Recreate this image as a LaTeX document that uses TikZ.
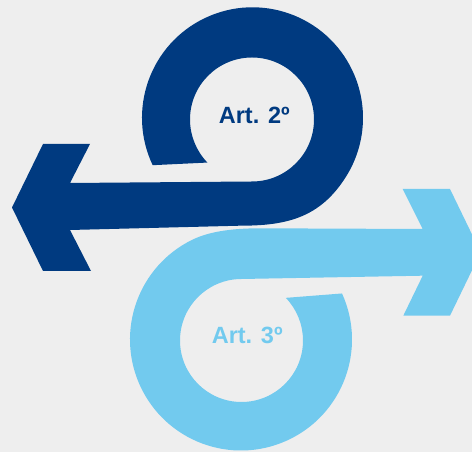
\documentclass[tikz,border=0pt]{standalone}
\usepackage{fontspec}
\usetikzlibrary{calc}
\setmainfont{Liberation Sans}
\definecolor{darkblue}{HTML}{003A80}
\definecolor{lightblue}{HTML}{72CAEE}
\definecolor{bggrey}{HTML}{EEEEEE}
\tikzset{
  darkarrow/.style={fill=darkblue, draw=none},
  lightarrow/.style={fill=lightblue, draw=none},
  artlabel/.style={font=\bfseries\fontsize{23.5}{28}\selectfont, anchor=base, inner sep=0pt}
}
\begin{document}
\begin{tikzpicture}[x=1pt,y=1pt]
\clip (0,0) rectangle (472,452);
\fill[bggrey] (0,0) rectangle (472,452);
% centres of the loops
\coordinate (O1) at (252.5,334.2);
\coordinate (I1) at (252,332.5);
\coordinate (O2) at (241,112.5);
\coordinate (I2) at (241.5,111.5);
% dark blue arrow (pointing left)
\fill[darkarrow]
  ($(O1)+(205.4:110.5)$)
  arc[start angle=205.4, end angle=-32, radius=110.5pt]
  .. controls (319.7,233.2) and (285,226.3) .. (240,226.3)
  -- (70,222) -- (91,181) -- (43,181) -- (12,244.5) -- (43,308) -- (90,308) -- (70,269)
  -- ($(I1)+(-90:62)$)
  arc[start angle=-90, end angle=224, radius=62pt]
  -- cycle;
% light blue arrow (pointing right)
\fill[lightarrow]
  ($(O2)+(24.5:111)$)
  arc[start angle=24.5, end angle=-244, radius=111pt]
  .. controls (210.3,221.1) and (235,223.7) .. (260,223.7)
  -- (422.7,223) -- (402.7,263) -- (450,263) -- (480.7,199.65) -- (450,136.3) -- (403.3,136.3) -- (422.7,176.3)
  -- ($(I2)+(90:61.5)$)
  arc[start angle=90, end angle=403.9, radius=61.5pt]
  -- cycle;
\node[artlabel, text=darkblue] (art2) at (254.3,328) {Art. 2º};
\node[artlabel, text=lightblue] (art3) at (247.2,108.7) {Art. 3º};
\end{tikzpicture}
\end{document}
